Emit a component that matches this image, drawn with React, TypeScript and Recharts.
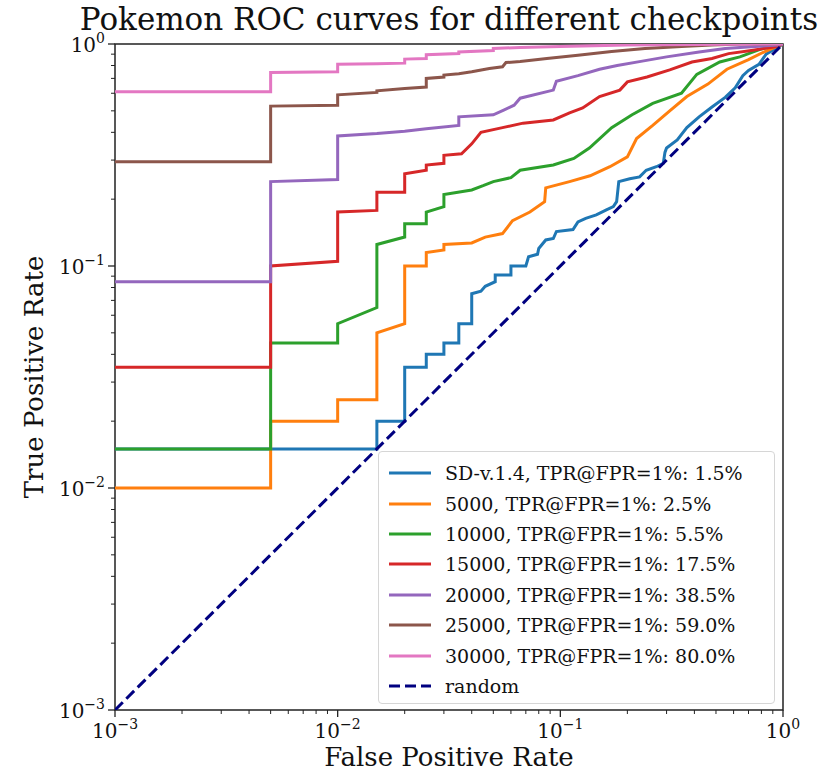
import React from 'react';
import { LineChart, Line, XAxis, YAxis, Legend, ReferenceArea } from 'recharts';

// ROC points (fpr, tpr), log-log axes
const sdFpr = [0.001, 0.015, 0.015, 0.02, 0.02, 0.025, 0.025, 0.03, 0.03, 0.035, 0.035, 0.04, 0.04, 0.044, 0.046, 0.051, 0.051, 0.06, 0.06, 0.07, 0.072, 0.079, 0.08, 0.086, 0.093, 0.096, 0.114, 0.12, 0.13, 0.145, 0.161, 0.173, 0.179, 0.183, 0.205, 0.227, 0.243, 0.27, 0.29, 0.295, 0.3, 0.335, 0.37, 0.42, 0.48, 0.55, 0.61, 0.66, 0.7, 0.78, 0.84, 0.95, 1];
const sdTpr = [0.015, 0.015, 0.02, 0.02, 0.035, 0.035, 0.04, 0.04, 0.045, 0.045, 0.055, 0.055, 0.075, 0.077, 0.081, 0.085, 0.091, 0.091, 0.1, 0.1, 0.11, 0.113, 0.12, 0.131, 0.133, 0.143, 0.146, 0.158, 0.164, 0.17, 0.179, 0.185, 0.195, 0.24, 0.247, 0.252, 0.27, 0.28, 0.29, 0.325, 0.34, 0.37, 0.42, 0.47, 0.52, 0.575, 0.635, 0.72, 0.76, 0.81, 0.9, 0.97, 1];

const k5Fpr = [0.001, 0.005, 0.005, 0.01, 0.01, 0.015, 0.015, 0.02, 0.02, 0.025, 0.025, 0.03, 0.03, 0.04, 0.046, 0.055, 0.061, 0.073, 0.085, 0.086, 0.11, 0.136, 0.167, 0.2, 0.22, 0.26, 0.31, 0.37, 0.46, 0.56, 0.7, 0.82, 0.95, 1];
const k5Tpr = [0.01, 0.01, 0.02, 0.02, 0.025, 0.025, 0.05, 0.055, 0.1, 0.1, 0.115, 0.118, 0.125, 0.127, 0.135, 0.14, 0.16, 0.175, 0.195, 0.225, 0.24, 0.255, 0.28, 0.31, 0.375, 0.43, 0.5, 0.58, 0.66, 0.77, 0.85, 0.92, 0.98, 1];

const k10Fpr = [0.001, 0.005, 0.005, 0.01, 0.01, 0.015, 0.015, 0.02, 0.02, 0.025, 0.025, 0.03, 0.03, 0.04, 0.045, 0.05, 0.06, 0.066, 0.093, 0.115, 0.135, 0.17, 0.21, 0.26, 0.35, 0.41, 0.52, 0.64, 0.8, 0.95, 1];
const k10Tpr = [0.015, 0.015, 0.045, 0.045, 0.055, 0.065, 0.125, 0.135, 0.155, 0.155, 0.175, 0.185, 0.21, 0.22, 0.23, 0.24, 0.25, 0.27, 0.285, 0.305, 0.34, 0.42, 0.48, 0.54, 0.6, 0.73, 0.83, 0.875, 0.95, 0.99, 1];

const k15Fpr = [0.001, 0.005, 0.005, 0.01, 0.01, 0.015, 0.015, 0.02, 0.02, 0.025, 0.025, 0.03, 0.03, 0.036, 0.04, 0.044, 0.055, 0.068, 0.093, 0.11, 0.126, 0.15, 0.185, 0.2, 0.245, 0.31, 0.39, 0.48, 0.57, 0.72, 0.94, 1];
const k15Tpr = [0.035, 0.035, 0.1, 0.105, 0.175, 0.178, 0.215, 0.215, 0.26, 0.27, 0.285, 0.29, 0.315, 0.32, 0.355, 0.4, 0.42, 0.44, 0.455, 0.49, 0.515, 0.58, 0.62, 0.675, 0.71, 0.765, 0.83, 0.86, 0.905, 0.935, 0.975, 1];

const k20Fpr = [0.001, 0.005, 0.005, 0.01, 0.01, 0.015, 0.02, 0.025, 0.035, 0.035, 0.05, 0.056, 0.062, 0.066, 0.093, 0.096, 0.12, 0.15, 0.18, 0.23, 0.3, 0.42, 0.55, 0.75, 0.95, 1];
const k20Tpr = [0.085, 0.085, 0.24, 0.245, 0.385, 0.395, 0.405, 0.415, 0.43, 0.47, 0.48, 0.505, 0.53, 0.57, 0.62, 0.68, 0.72, 0.77, 0.8, 0.835, 0.875, 0.92, 0.955, 0.975, 0.99, 1];

const k25Fpr = [0.001, 0.005, 0.005, 0.01, 0.01, 0.015, 0.015, 0.02, 0.025, 0.025, 0.03, 0.03, 0.035, 0.04, 0.048, 0.055, 0.057, 0.066, 0.087, 0.12, 0.17, 0.24, 0.35, 0.48, 0.65, 1];
const k25Tpr = [0.295, 0.295, 0.525, 0.53, 0.59, 0.605, 0.615, 0.63, 0.64, 0.7, 0.71, 0.725, 0.735, 0.75, 0.775, 0.79, 0.825, 0.835, 0.86, 0.89, 0.925, 0.955, 0.975, 0.99, 1, 1];

const k30Fpr = [0.001, 0.005, 0.005, 0.01, 0.01, 0.015, 0.02, 0.02, 0.025, 0.025, 0.035, 0.035, 0.05, 0.05, 0.066, 0.1, 0.2, 0.4, 1];
const k30Tpr = [0.61, 0.61, 0.745, 0.75, 0.81, 0.815, 0.82, 0.855, 0.86, 0.895, 0.905, 0.92, 0.935, 0.955, 0.965, 0.975, 0.99, 0.995, 1];

const randomFpr = [0.001, 1];
const randomTpr = [0.001, 1];

const seriesNames = [
  'SD-v.1.4, TPR@FPR=1%: 1.5%',
  '5000, TPR@FPR=1%: 2.5%',
  '10000, TPR@FPR=1%: 5.5%',
  '15000, TPR@FPR=1%: 17.5%',
  '20000, TPR@FPR=1%: 38.5%',
  '25000, TPR@FPR=1%: 59.0%',
  '30000, TPR@FPR=1%: 80.0%',
  'random',
];
const seriesColors = ['#1f77b4', '#ff7f0e', '#2ca02c', '#d62728', '#9467bd', '#8c564b', '#e377c2', '#000080'];

const majorTicks = [0.001, 0.01, 0.1, 1];
const minorMultipliers = [2, 3, 4, 5, 6, 7, 8, 9];
const allTicks = [
  ...majorTicks,
  ...majorTicks.slice(0, 3).flatMap(d => minorMultipliers.map(m => +(d * m).toPrecision(3))),
];

const zip = (xs: number[], ys: number[]) => xs.map((x, i) => ({ x, y: ys[i] }));

const curves = [
  zip(sdFpr, sdTpr),
  zip(k5Fpr, k5Tpr),
  zip(k10Fpr, k10Tpr),
  zip(k15Fpr, k15Tpr),
  zip(k20Fpr, k20Tpr),
  zip(k25Fpr, k25Tpr),
  zip(k30Fpr, k30Tpr),
  zip(randomFpr, randomTpr),
];

const FONT = '"DejaVu Serif", serif';

const expLabel = (v: number) => {
  const e = Math.round(Math.log10(v));
  return e < 0 ? '\u2212' + -e : String(e);
};

const XTick = (props: any) => {
  const { x, y, payload } = props;
  const major = majorTicks.includes(payload.value);
  return (
    <g>
      <line x1={x} y1={y} x2={x} y2={y + (major ? 7 : 4)} stroke="#222" strokeWidth={major ? 1.3 : 1} />
      {major && (
        <text x={x} y={y + 28} textAnchor="middle" fontFamily={FONT} fontSize={20} fill="#111">
          <tspan>10</tspan>
          <tspan dy={-9} fontSize={14}>{expLabel(payload.value)}</tspan>
        </text>
      )}
    </g>
  );
};

const YTick = (props: any) => {
  const { x, y, payload } = props;
  const major = majorTicks.includes(payload.value);
  return (
    <g>
      <line x1={x - (major ? 7 : 4)} y1={y} x2={x} y2={y} stroke="#222" strokeWidth={major ? 1.3 : 1} />
      {major && (
        <text x={x - 10} y={y + 8} textAnchor="end" fontFamily={FONT} fontSize={20} fill="#111">
          <tspan>10</tspan>
          <tspan dy={-9} fontSize={14}>{expLabel(payload.value)}</tspan>
        </text>
      )}
    </g>
  );
};

const renderLegend = () => (
  <div
    style={{
      border: '1px solid #d6d6d6',
      borderRadius: 4,
      background: 'rgba(255,255,255,0.85)',
      padding: '6px 0 2px 0',
      boxSizing: 'border-box',
      width: 397,
      fontFamily: FONT,
      fontSize: 19,
      color: '#111',
    }}
  >
    {seriesNames.map((name, i) => (
      <div key={name} style={{ height: 30.4, display: 'flex', alignItems: 'center' }}>
        <svg width={66} height={10} style={{ flex: 'none' }}>
          <line
            x1={10}
            y1={5}
            x2={52}
            y2={5}
            stroke={seriesColors[i]}
            strokeWidth={3}
            strokeDasharray={i === 7 ? '11 5' : undefined}
          />
        </svg>
        <span>{name}</span>
      </div>
    ))}
  </div>
);

export default function App() {
  return (
    <div style={{ position: 'absolute', left: 0, top: 0, width: 819, height: 771, background: '#fff' }}>
      <LineChart width={819} height={771} margin={{ top: 44, right: 36, bottom: 0, left: 0 }}>
        <XAxis
          dataKey="x"
          type="number"
          scale="log"
          domain={[0.001, 1]}
          allowDataOverflow
          ticks={allTicks}
          interval={0}
          tick={<XTick />}
          tickLine={false}
          axisLine={false}
          tickSize={0}
          tickMargin={0}
          height={61}
        />
        <YAxis
          type="number"
          scale="log"
          domain={[0.001, 1]}
          allowDataOverflow
          ticks={allTicks}
          interval={0}
          tick={<YTick />}
          tickLine={false}
          axisLine={false}
          tickSize={0}
          tickMargin={0}
          width={115}
        />
        {curves.map((data, i) => (
          <Line
            key={seriesNames[i]}
            data={data}
            dataKey="y"
            name={seriesNames[i]}
            type="linear"
            stroke={seriesColors[i]}
            strokeWidth={3}
            strokeDasharray={i === 7 ? '11 5' : undefined}
            dot={false}
            activeDot={false}
            isAnimationActive={false}
          />
        ))}
        <ReferenceArea x1={0.001} x2={1} y1={0.001} y2={1} fill="none" stroke="#222" strokeWidth={1.5} />
        <Legend
          layout="vertical"
          align="center"
          verticalAlign="middle"
          content={renderLegend}
          wrapperStyle={{ left: 378, top: 451, width: 397 }}
        />
      </LineChart>
      <svg width={819} height={771} style={{ position: 'absolute', left: 0, top: 0, pointerEvents: 'none' }}>
        <text x={449} y={30} textAnchor="middle" fontFamily={FONT} fontSize={31} fill="#111">
          Pokemon ROC curves for different checkpoints
        </text>
        <text x={449} y={766} textAnchor="middle" fontFamily={FONT} fontSize={26} fill="#111">
          False Positive Rate
        </text>
        <text
          x={0}
          y={0}
          transform="translate(43 377) rotate(-90)"
          textAnchor="middle"
          fontFamily={FONT}
          fontSize={26}
          fill="#111"
        >
          True Positive Rate
        </text>
      </svg>
    </div>
  );
}
